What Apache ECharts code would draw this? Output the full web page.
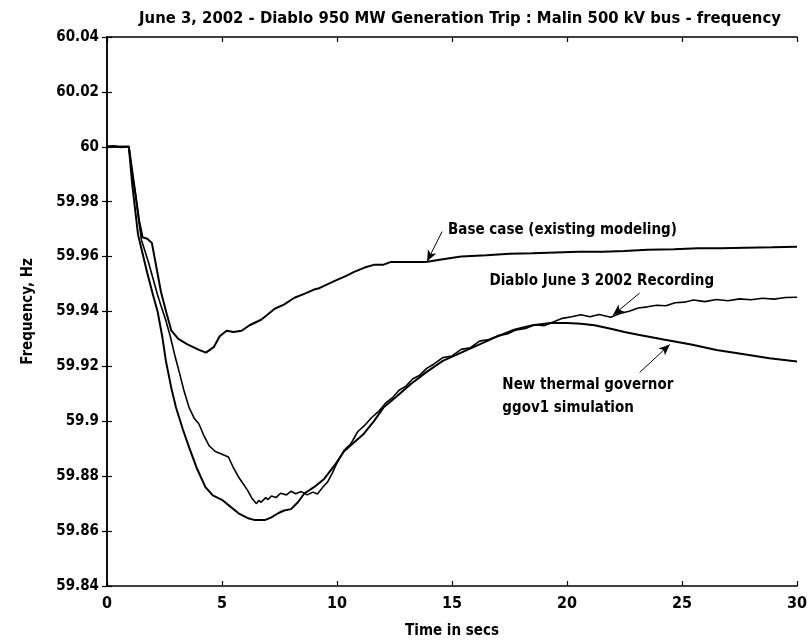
<!DOCTYPE html>
<html>
<head>
<meta charset="utf-8">
<script src="https://cdn.jsdelivr.net/npm/echarts@6/dist/echarts.min.js"></script>
<style>html,body{margin:0;padding:0;background:#fff;}#c{width:810px;height:644px;}</style>
</head>
<body>
<div id="c"></div>
<script>
const FONT = "'Liberation Sans Narrow','DejaVu Sans Condensed','Arial Narrow',sans-serif";
const titleText = 'June 3, 2002 - Diablo 950 MW Generation Trip : Malin 500 kV bus - frequency';
const xTicks = [0, 5, 10, 15, 20, 25, 30];
const yTickLabels = ['59.84','59.86','59.88','59.9','59.92','59.94','59.96','59.98','60','60.02','60.04'];

// Base case (existing modeling)
const baseT = [0,0.95,1.2,1.4,1.55,1.75,1.95,2.15,2.35,2.6,2.8,3.1,3.5,4.0,4.3,4.64,4.9,5.2,5.5,5.85,6.2,6.7,7.0,7.29,7.69,8.15,8.6,9.0,9.23,9.6,10.0,10.4,10.77,11.2,11.6,12.0,12.32,13.0,13.86,14.6,15.4,16.5,17.5,18.5,19.5,20.5,21.57,22.5,23.5,24.65,25.7,26.7,27.74,28.9,30];
const baseF = [60,60,59.985,59.973,59.967,59.9665,59.965,59.956,59.947,59.939,59.933,59.930,59.928,59.926,59.925,59.927,59.931,59.933,59.9325,59.933,59.935,59.937,59.939,59.941,59.9425,59.945,59.9465,59.948,59.9485,59.950,59.9515,59.953,59.9545,59.956,59.957,59.957,59.958,59.958,59.958,59.959,59.960,59.9605,59.961,59.9612,59.9615,59.9618,59.9618,59.962,59.9625,59.9627,59.963,59.963,59.9632,59.9634,59.9636];

// Diablo June 3 2002 Recording
const recT = [0,0.3,0.6,0.95,1.1,1.25,1.4,1.5,1.65,1.8,2.0,2.2,2.35,2.55,2.75,2.95,3.14,3.35,3.57,3.8,4.0,4.2,4.45,4.71,5.0,5.28,5.5,5.7,5.86,6.1,6.3,6.5,6.6,6.7,6.9,7.0,7.15,7.35,7.55,7.8,8.0,8.2,8.45,8.7,8.95,9.15,9.4,9.6,9.8,10.0,10.3,10.6,10.9,11.2,11.5,11.8,12.1,12.4,12.7,13.0,13.3,13.6,13.9,14.2,14.6,15.0,15.4,15.8,16.2,16.6,17.0,17.4,17.8,18.2,18.6,19.0,19.4,19.8,20.2,20.6,21.0,21.4,21.9,22.3,22.7,23.1,23.5,23.9,24.3,24.7,25.1,25.5,26.0,26.5,27.0,27.5,28.0,28.5,29.0,29.5,30];
const recF = [60.0002,60.0004,59.9998,60.0001,59.990,59.982,59.972,59.966,59.962,59.958,59.952,59.946,59.942,59.937,59.931,59.924,59.918,59.911,59.905,59.901,59.899,59.895,59.891,59.889,59.888,59.887,59.883,59.880,59.878,59.875,59.872,59.870,59.8712,59.8705,59.8722,59.8715,59.8728,59.8722,59.8738,59.8732,59.8745,59.8736,59.8744,59.8732,59.8742,59.8735,59.8762,59.878,59.8812,59.8848,59.8893,59.8918,59.8962,59.8985,59.9013,59.9035,59.9065,59.9085,59.9113,59.9128,59.9155,59.9168,59.9193,59.9208,59.9232,59.9238,59.9262,59.9268,59.9292,59.9298,59.9312,59.9318,59.9333,59.9338,59.9352,59.9348,59.9362,59.9375,59.9381,59.9388,59.9381,59.9389,59.9379,59.9393,59.9401,59.9413,59.9417,59.9423,59.9421,59.9432,59.9434,59.9442,59.9436,59.9444,59.9439,59.9446,59.9443,59.9448,59.9445,59.9451,59.9452];

// New thermal governor ggov1 simulation
const govT = [0,0.95,1.1,1.35,1.55,1.75,2.0,2.2,2.4,2.56,2.8,3.0,3.3,3.57,3.9,4.28,4.6,5.0,5.35,5.72,6.1,6.43,6.86,7.15,7.44,7.7,8.0,8.3,8.58,9.0,9.44,9.9,10.3,10.7,11.16,11.6,12.02,12.59,13.2,13.9,14.6,15.4,16.2,17.0,17.7,18.5,19.3,20.0,20.6,21.2,22.0,22.5,23.1,24.2,25.4,26.5,27.7,28.8,30];
const govF = [60,60,59.986,59.968,59.961,59.954,59.946,59.940,59.931,59.922,59.912,59.905,59.897,59.8905,59.883,59.876,59.873,59.8714,59.869,59.8665,59.8648,59.864,59.864,59.865,59.8665,59.8675,59.868,59.8705,59.8737,59.876,59.879,59.884,59.889,59.892,59.8954,59.900,59.905,59.909,59.9135,59.918,59.922,59.925,59.928,59.931,59.9334,59.935,59.9358,59.9358,59.9355,59.935,59.9335,59.9325,59.9315,59.9298,59.928,59.926,59.9244,59.923,59.9218];

// annotations (data coordinates)
const annoTexts = ['Base case (existing modeling)', 'Diablo June 3 2002 Recording', 'New thermal governor\nggov1 simulation'];
const annoTextPos = [[14.83, 59.9695], [16.63, 59.951], [17.19, 59.9089]];
const annoArrows = [
  [[14.57, 59.9691], [13.92, 59.9583]],
  [[23.16, 59.9467], [22.0, 59.9387]],
  [[23.16, 59.9178], [24.47, 59.9280]]
];

const zip = (a, b) => a.map((v, i) => [v, b[i]]);
const txt = { fontFamily: FONT, fontWeight: 'bold', color: '#000' };

const chart = echarts.init(document.getElementById('c'), null, { renderer: 'canvas' });
const axisLine = { show: true, lineStyle: { color: '#000', width: 1.5 } };
const tick = { show: true, inside: true, length: 5, lineStyle: { color: '#000', width: 1.2 } };

chart.setOption({
  backgroundColor: '#fff',
  animation: false,
  title: {
    text: titleText, left: 455, textAlign: 'center', top: 5,
    textStyle: Object.assign({ fontSize: 16.5 }, txt)
  },
  grid: { left: 107, right: 5, top: 37, bottom: 54 },
  xAxis: [
    {
      type: 'value', min: 0, max: 30, interval: 5, position: 'bottom',
      name: 'Time in secs', nameLocation: 'middle', nameGap: 38,
      nameTextStyle: Object.assign({ fontSize: 15 }, txt),
      axisLine: axisLine, axisTick: tick, splitLine: { show: false },
      axisLabel: Object.assign({ fontSize: 16, margin: 10, showMaxLabel: true, formatter: v => String(xTicks[Math.round(v / 5)]) }, txt)
    },
    {
      type: 'value', min: 0, max: 30, interval: 5, position: 'top',
      axisLine: axisLine, axisTick: tick, splitLine: { show: false }, axisLabel: { show: false }
    }
  ],
  yAxis: [
    {
      type: 'value', min: 59.84, max: 60.04, interval: 0.02, position: 'left',
      name: 'Frequency, Hz', nameLocation: 'middle', nameGap: 71, nameRotate: 90,
      nameTextStyle: Object.assign({ fontSize: 15 }, txt),
      axisLine: axisLine, axisTick: tick, splitLine: { show: false },
      axisLabel: Object.assign({ fontSize: 15, margin: 8, formatter: v => yTickLabels[Math.round((v - 59.84) / 0.02)] }, txt)
    },
    {
      type: 'value', min: 59.84, max: 60.04, interval: 0.02, position: 'right',
      axisLine: axisLine, axisTick: tick, splitLine: { show: false }, axisLabel: { show: false }
    }
  ],
  series: [
    {
      name: 'Base case', type: 'line', data: zip(baseT, baseF), showSymbol: false, symbol: 'none',
      lineStyle: { color: '#000', width: 2 }
    },
    {
      name: 'Recording', type: 'line', data: zip(recT, recF), showSymbol: false, symbol: 'none',
      lineStyle: { color: '#000', width: 1.6 }
    },
    {
      name: 'ggov1', type: 'line', data: zip(govT, govF), showSymbol: false, symbol: 'none',
      lineStyle: { color: '#000', width: 2 }
    },
    {
      name: 'annotations', type: 'line', data: [[0, 60]], symbol: 'none', showSymbol: false,
      lineStyle: { opacity: 0 }, silent: true,
      markLine: {
        silent: true, animation: false,
        symbol: ['none', 'arrow'], symbolSize: [7, 11],
        lineStyle: { color: '#000', width: 1, type: 'solid' },
        label: { show: false },
        data: annoArrows.map(a => [{ coord: a[0] }, { coord: a[1] }])
      },
      markPoint: {
        silent: true, animation: false, symbol: 'circle', symbolSize: 0,
        data: annoTexts.map((t, i) => ({
          coord: annoTextPos[i],
          label: Object.assign({
            show: true, formatter: t, position: [0, 0], align: 'left', verticalAlign: 'middle',
            fontSize: 15, lineHeight: 23
          }, txt)
        }))
      }
    }
  ]
});
</script>
</body>
</html>
